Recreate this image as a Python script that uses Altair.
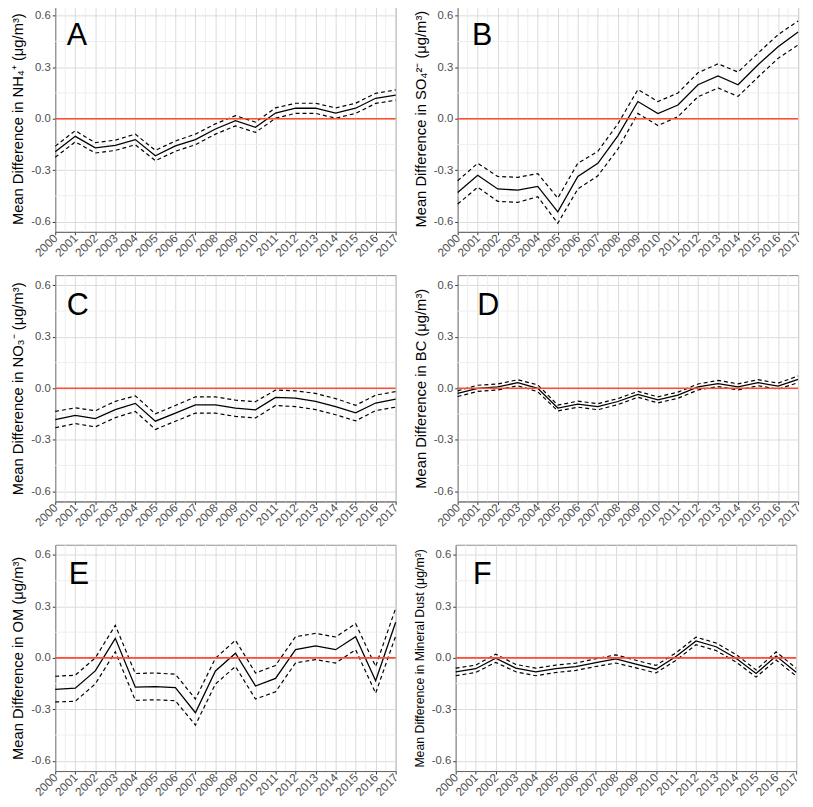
import altair as alt
import pandas as pd

years = list(range(2000, 2018))

nh4_mean = [-0.193, -0.103, -0.17, -0.155, -0.122, -0.216, -0.159, -0.122, -0.06, -0.012, -0.05, 0.033, 0.061, 0.061, 0.033, 0.061, 0.119, 0.138]
nh4_upper = [-0.16, -0.07, -0.14, -0.125, -0.09, -0.185, -0.13, -0.09, -0.03, 0.018, -0.02, 0.063, 0.09, 0.09, 0.063, 0.09, 0.148, 0.168]
nh4_lower = [-0.225, -0.135, -0.20, -0.185, -0.152, -0.245, -0.19, -0.152, -0.09, -0.042, -0.08, 0.003, 0.031, 0.031, 0.003, 0.031, 0.089, 0.108]

so4_mean = [-0.43, -0.33, -0.41, -0.416, -0.395, -0.543, -0.337, -0.26, -0.10, 0.10, 0.03, 0.08, 0.198, 0.25, 0.198, 0.315, 0.42, 0.506]
so4_upper = [-0.362, -0.26, -0.337, -0.342, -0.32, -0.463, -0.26, -0.19, -0.03, 0.17, 0.10, 0.15, 0.268, 0.32, 0.272, 0.383, 0.49, 0.57]
so4_lower = [-0.498, -0.40, -0.482, -0.488, -0.455, -0.61, -0.41, -0.333, -0.177, 0.031, -0.04, 0.012, 0.128, 0.179, 0.13, 0.243, 0.352, 0.43]

no3_mean = [-0.183, -0.158, -0.177, -0.124, -0.088, -0.192, -0.145, -0.097, -0.097, -0.116, -0.126, -0.053, -0.057, -0.076, -0.107, -0.143, -0.086, -0.063]
no3_upper = [-0.135, -0.114, -0.131, -0.076, -0.044, -0.149, -0.10, -0.05, -0.05, -0.069, -0.078, -0.01, -0.015, -0.03, -0.06, -0.099, -0.04, -0.019]
no3_lower = [-0.23, -0.206, -0.225, -0.171, -0.135, -0.24, -0.192, -0.145, -0.145, -0.164, -0.173, -0.10, -0.107, -0.124, -0.154, -0.19, -0.13, -0.11]

bc_mean = [-0.03, 0.0, 0.008, 0.033, 0.0, -0.115, -0.092, -0.107, -0.077, -0.035, -0.067, -0.04, 0.008, 0.027, 0.008, 0.033, 0.013, 0.052]
bc_upper = [-0.015, 0.018, 0.025, 0.05, 0.02, -0.098, -0.075, -0.09, -0.06, -0.018, -0.05, -0.022, 0.025, 0.046, 0.026, 0.05, 0.03, 0.072]
bc_lower = [-0.048, -0.018, -0.01, 0.015, -0.02, -0.132, -0.11, -0.125, -0.095, -0.052, -0.085, -0.058, -0.01, 0.01, -0.01, 0.015, -0.005, 0.033]

om_mean = [-0.183, -0.177, -0.076, 0.114, -0.171, -0.168, -0.173, -0.32, -0.076, 0.027, -0.164, -0.12, 0.048, 0.07, 0.048, 0.124, -0.133, 0.208]
om_upper = [-0.107, -0.101, 0.0, 0.19, -0.091, -0.088, -0.095, -0.24, -0.002, 0.103, -0.088, -0.044, 0.124, 0.143, 0.122, 0.2, -0.05, 0.29]
om_lower = [-0.257, -0.253, -0.152, 0.036, -0.248, -0.244, -0.25, -0.392, -0.152, -0.05, -0.24, -0.198, -0.029, -0.01, -0.03, 0.048, -0.206, 0.128]

dust_mean = [-0.082, -0.063, -0.002, -0.059, -0.082, -0.063, -0.051, -0.027, -0.006, -0.036, -0.066, 0.008, 0.099, 0.065, -0.002, -0.091, 0.011, -0.083]
dust_upper = [-0.06, -0.042, 0.022, -0.038, -0.06, -0.042, -0.03, -0.005, 0.018, -0.014, -0.044, 0.03, 0.121, 0.087, 0.02, -0.07, 0.035, -0.06]
dust_lower = [-0.104, -0.085, -0.026, -0.081, -0.104, -0.085, -0.073, -0.05, -0.03, -0.058, -0.088, -0.014, 0.077, 0.043, -0.024, -0.112, -0.013, -0.105]

panel_letters = ["A", "B", "C", "D", "E", "F"]
panel_titles = [
    "Mean Difference in NH₄⁺ (μg/m³)",
    "Mean Difference in SO₄²⁻ (μg/m³)",
    "Mean Difference in NO₃⁻ (μg/m³)",
    "Mean Difference in BC (μg/m³)",
    "Mean Difference in OM (μg/m³)",
    "Mean Difference in Mineral Dust (μg/m³)",
]
panel_series = [
    (nh4_mean, nh4_upper, nh4_lower),
    (so4_mean, so4_upper, so4_lower),
    (no3_mean, no3_upper, no3_lower),
    (bc_mean, bc_upper, bc_lower),
    (om_mean, om_upper, om_lower),
    (dust_mean, dust_upper, dust_lower),
]
zero_line = [0.0]
x_ticks = list(range(2000, 2018))
x_minor = [2000.5 + i for i in range(17)]
y_ticks = [-0.6, -0.3, 0.0, 0.3, 0.6]
y_minor = [-0.45, -0.15, 0.15, 0.45]

# styling
FONT = "Liberation Sans"
W, H = 346, 230
letter_dx = [22, 25, 23, 31, 24, 27]
title_sizes = [15, 15, 15, 15, 15, 12.5]
MAJOR = "#DADADA"
MINOR = "#EEEEEE"
RED = "#FF4D33"


def make_panel(i):
    mean, upper, lower = panel_series[i]
    df = pd.DataFrame({"year": years, "mean": mean, "upper": upper, "lower": lower})
    xaxis = alt.Axis(
        values=x_ticks, format="d", gridColor=MAJOR,
        labelAngle=315, labelAlign="right", labelBaseline="middle",
        labelFontSize=12, labelColor="#4D4D4D", labelPadding=1, labelOverlap=False,
        labelFlush=False, tickSize=3, tickColor="#333333", domainColor="#666666",
        title=None,
    )
    yaxis = alt.Axis(
        values=y_ticks, gridColor=MAJOR,
        labelExpr="replace(format(datum.value, '.1f'), '\u2212', '-')",
        labelFontSize=11.5, labelColor="#4D4D4D", labelPadding=2, labelOverlap=False,
        labelFlush=False, tickSize=3, tickColor="#333333", domainColor="#888888",
        title=panel_titles[i], titleFontSize=title_sizes[i], titleFontWeight="normal",
        titleColor="#000000", titlePadding=5,
    )
    xs = alt.Scale(domain=[2000, 2017], nice=False, zero=False)
    ys = alt.Scale(domain=[-0.66, 0.66], nice=False, zero=False)
    base = alt.Chart(df)
    x = alt.X("year:Q", scale=xs, axis=xaxis)

    vminor = alt.Chart(pd.DataFrame({"mx": x_minor})).mark_rule(color=MINOR, strokeWidth=1).encode(
        x=alt.X("mx:Q", scale=xs, axis=xaxis))
    hminor = alt.Chart(pd.DataFrame({"my": y_minor})).mark_rule(color=MINOR, strokeWidth=1).encode(
        y=alt.Y("my:Q", scale=ys, axis=yaxis))
    mean_line = base.mark_line(color="black", strokeWidth=1.3).encode(
        x=x, y=alt.Y("mean:Q", scale=ys, axis=yaxis))
    up_line = base.mark_line(color="black", strokeWidth=1.2, strokeDash=[4, 3]).encode(
        x=x, y=alt.Y("upper:Q", scale=ys, axis=yaxis))
    lo_line = base.mark_line(color="black", strokeWidth=1.2, strokeDash=[4, 3]).encode(
        x=x, y=alt.Y("lower:Q", scale=ys, axis=yaxis))
    rule = alt.Chart(pd.DataFrame({"z": zero_line})).mark_rule(color=RED, strokeWidth=1.6).encode(
        y=alt.Y("z:Q", scale=ys, axis=yaxis))
    letter = alt.Chart(pd.DataFrame({"t": [panel_letters[i]]})).mark_text(
        fontSize=31, font=FONT, color="black", align="center", baseline="middle"
    ).encode(text="t:N", x=alt.value(letter_dx[i]), y=alt.value(31))
    return alt.layer(vminor, hminor, up_line, lo_line, mean_line, rule, letter).properties(width=W, height=H)


panels = [make_panel(i) for i in range(6)]
rows = [alt.hconcat(panels[2 * r], panels[2 * r + 1], spacing=12) for r in range(3)]
chart = alt.vconcat(*rows, spacing=15).properties(
    padding={"top": -10, "left": 2, "right": 2, "bottom": 0}
).configure(
    font=FONT
).configure_view(stroke="#8C8C8C", strokeWidth=1)

chart.save("out.html", embed_options={"renderer": "svg", "actions": False})
